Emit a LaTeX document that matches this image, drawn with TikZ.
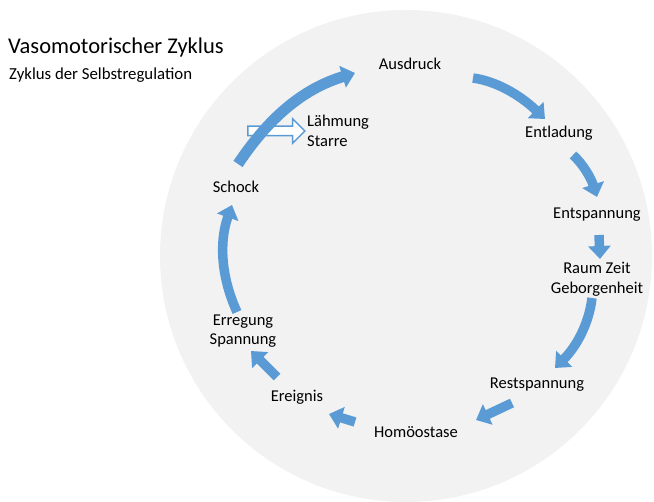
\documentclass[tikz,border=0pt]{standalone}
\usepackage{fontspec}
\setmainfont{Carlito}
\usetikzlibrary{arrows.meta,shapes.arrows}

\definecolor{zyklusblau}{RGB}{91,155,213}
\definecolor{kreisgrau}{RGB}{242,242,242}

\tikzset{
  stufe/.style={font=\fontsize{16.5}{19.5}\selectfont, align=center, inner sep=0pt},
  pfeil/.style={draw=zyklusblau, line width=9.5pt, -{Triangle[width=22pt,length=13pt]}},
  hohlpfeil/.style={shape=single arrow, draw=zyklusblau, fill=white, line width=1.5pt,
    inner sep=4pt, single arrow head extend=7.5pt, minimum height=57pt}
}

\begin{document}
\begin{tikzpicture}[x=1pt,y=-1pt]
\useasboundingbox (0,0) rectangle (654,502);
\fill[kreisgrau] (406,256) circle (246pt);

% title
\node[anchor=west, inner sep=0pt, font=\fontsize{22.5}{26}\selectfont] (titel) at (8,48) {Vasomotorischer Zyklus};
\node[anchor=west, inner sep=0pt, font=\fontsize{16.8}{19.5}\selectfont] (untertitel) at (9,75) {Zyklus der Selbstregulation};

% stages
\node[stufe] (ausdruck) at (410,64) {Ausdruck};
\node[stufe] (entladung) at (559,133) {Entladung};
\node[stufe] (entspannung) at (597,215) {Entspannung};
\node[stufe] (raum) at (597,279) {Raum Zeit\\Geborgenheit};
\node[stufe] (rest) at (537,385) {Restspannung};
\node[stufe] (homoeo) at (416,432) {Homöostase};
\node[stufe] (ereignis) at (297,397) {Ereignis};
\node[stufe] (erregung) at (243,331) {Erregung\\Spannung};
\node[stufe] (schock) at (236,187) {Schock};
\node[stufe, anchor=west, align=left] (laehmung) at (307,131) {Lähmung\\Starre};

% hollow arrow
\node[hohlpfeil] (laehmpfeil) at (274,131) {};

% arrow ends
\coordinate (a1) at (238,164); \coordinate (b1) at (355,73);
\coordinate (a2) at (473,78);  \coordinate (b2) at (545,119);
\coordinate (a3) at (573,155); \coordinate (b3) at (597,197);
\coordinate (a4) at (599,235); \coordinate (b4) at (600,259);
\coordinate (a5) at (592,298); \coordinate (b5) at (555,368);
\coordinate (a6) at (512,403); \coordinate (b6) at (476,420);
\coordinate (a7) at (355,422); \coordinate (b7) at (329,414);
\coordinate (a8) at (277,377); \coordinate (b8) at (251,351);
\coordinate (a9) at (237,312); \coordinate (b9) at (232,205);

% cycle
\draw[pfeil, line width=11pt] (a1) .. controls (268,119) and (302,89) .. (b1);
\draw[pfeil] (a2) .. controls (495,81) and (519,94) .. (b2);
\draw[pfeil] (a3) .. controls (583,164) and (591,178) .. (b3);
\draw[pfeil] (a4) -- (b4);
\draw[pfeil] (a5) .. controls (589,324) and (576,347) .. (b5);
\draw[pfeil] (a6) -- (b6);
\draw[pfeil] (a7) -- (b7);
\draw[pfeil] (a8) -- (b8);
\draw[pfeil] (a9) .. controls (221,277) and (219,242) .. (b9);
\end{tikzpicture}
\end{document}
